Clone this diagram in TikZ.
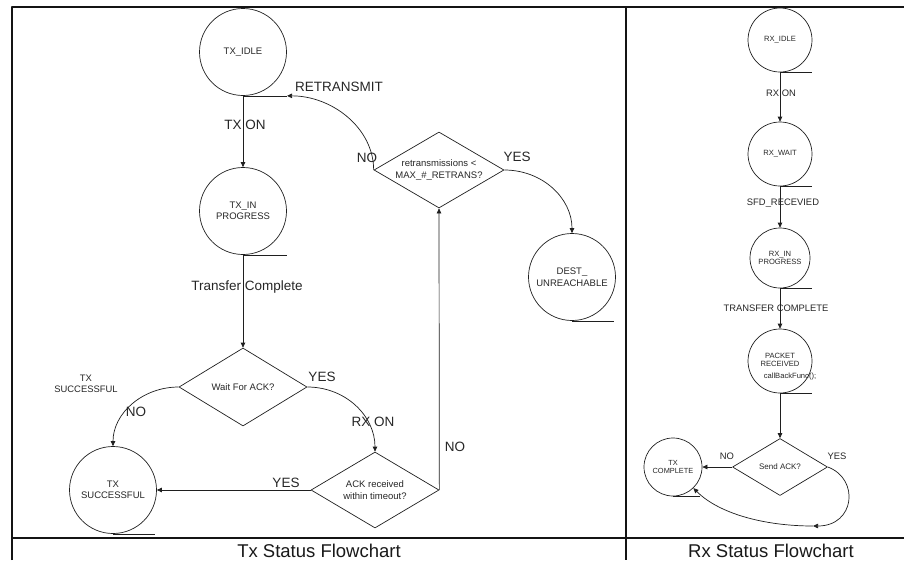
\documentclass[tikz,border=0pt]{standalone}
\usepackage{fontspec}
\setmainfont{Liberation Sans}
\usetikzlibrary{arrows.meta,shapes.geometric}

\begin{document}
\begin{tikzpicture}[x=1pt,y=-1pt,line join=round,
  ink/.style={draw=black!88},
  frame/.style={line width=2pt,draw=black!92},
  txstate/.style={circle,ink,line width=0.7pt,inner sep=0pt,minimum size=87pt,
    align=center,text=black!85,font=\fontsize{9.5}{11.5}\selectfont},
  rxstate/.style={circle,ink,line width=0.7pt,inner sep=0pt,minimum size=64pt,
    align=center,text=black!85,font=\fontsize{7.6}{8.6}\selectfont},
  decision/.style={diamond,ink,line width=0.7pt,inner sep=0pt,aspect=1.7,
    align=center,text=black!85,font=\fontsize{9.5}{11.5}\selectfont},
  smalldecision/.style={decision,font=\fontsize{8}{9.5}\selectfont},
  underline/.style={ink,line width=0.7pt},
  arr/.style={ink,line width=0.7pt,-{Triangle[length=5pt,width=4.5pt]}},
  lbl/.style={text=black!85,inner sep=0pt,font=\fontsize{13.5}{16}\selectfont},
  slbl/.style={text=black!85,inner sep=0pt,align=center,font=\fontsize{9.4}{11}\selectfont},
  captiontext/.style={text=black!90,inner sep=0pt,font=\fontsize{18.5}{22}\selectfont}]

\useasboundingbox (0,0) rectangle (904,560);

% outer frame, caption strip and panel divider
\draw[frame] (12,560) -- (12,7) -- (904,7);
\draw[frame] (12,538) -- (904,538);
\draw[frame] (626,7) -- (626,560);

% ---------------- Tx side ----------------
\node[txstate] (txidle) at (243,52) {TX\_IDLE};
\node[txstate] (txprog) at (243,211) {TX\_IN\\PROGRESS};
\node[txstate] (dest) at (572,277) {DEST\_\\UNREACHABLE};
\node[txstate] (txok) at (113,490) {TX\\SUCCESSFUL};

\node[decision,minimum width=130pt,minimum height=76pt] (retry) at (439,170)
  {retransmissions <\\MAX\_\#\_RETRANS?};
\node[decision,minimum width=128pt,minimum height=78pt] (waitack) at (243,387)
  {Wait For ACK?};
\node[decision,minimum width=128pt,minimum height=76pt] (ackrx) at (375,490)
  {ACK received\\within timeout?};

% state underlines
\coordinate (txidleu) at ([xshift=44pt]txidle.south);
\draw[underline] (txidle.south) -- (txidleu);
\draw[underline] (txprog.south) -- ++(44,0);
\draw[underline] (dest.south) -- ++(42,0);
\draw[underline] (txok.south) -- ++(42,0);

% transitions
\draw[arr] (txidle.south) -- (txprog.north);
\draw[arr] (txprog.south) -- (waitack.north);
\draw[arr] (retry.west) .. controls +(0,-42) and +(45,0) .. (txidleu);
\draw[arr] (retry.east) .. controls +(38,0) and +(0,-35) .. (dest.north);
\draw[arr] (waitack.west) .. controls +(-36,0) and +(0,-33) .. (txok.north);
\draw[arr] (waitack.east) .. controls +(38,0) and +(0,-36) .. (ackrx.north);
\draw[arr] (ackrx.west) -- (txok.east);
\draw[arr] (ackrx.east) -- (retry.south);

% transition labels
\node[lbl] (ltxon) at (245,125) {TX ON};
\node[lbl] (lretx) at (339,87) {RETRANSMIT};
\node[lbl] (lno1) at (367,158) {NO};
\node[lbl] (lyes1) at (517,157) {YES};
\node[lbl] (ltc1) at (247,287) {Transfer Complete};
\node[slbl] (lok) at (86,384) {TX\\SUCCESSFUL};
\node[lbl] (lno2) at (136,412) {NO};
\node[lbl] (lyes2) at (322,377) {YES};
\node[lbl] (lrxon1) at (373,422) {RX ON};
\node[lbl] (lyes3) at (286,483) {YES};
\node[lbl] (lno3) at (455,447) {NO};

% ---------------- Rx side ----------------
\node[rxstate] (rxidle) at (780,40) {RX\_IDLE};
\node[rxstate] (rxwait) at (780,154) {RX\_WAIT};
\node[rxstate,minimum size=60pt] (rxprog) at (780,258) {RX\_IN\\PROGRESS};
\node[rxstate] (pkt) at (780,361) {};
\node[rxstate,draw=none,minimum size=0pt] (pkttxt) at (780,360) {PACKET\\RECEIVED};
\node[rxstate,draw=none,minimum size=0pt] (pktfn) at (790,377) {callBackFunc();};
\node[smalldecision,minimum width=95pt,minimum height=57pt] (sendack) at (780,467) {Send ACK?};
\node[rxstate,minimum size=58pt,font=\fontsize{7.4}{8}\selectfont] (txcomp) at (673,467) {TX\\COMPLETE};

\draw[underline] (rxidle.south) -- ++(32,0);
\draw[underline] (rxwait.south) -- ++(32,0);
\draw[underline] (rxprog.south) -- ++(32,0);
\draw[underline] (pkt.south) -- ++(32,0);
\draw[underline] (txcomp.south) -- ++(27,0);

\draw[arr] (rxidle.south) -- (rxwait.north);
\draw[arr] (rxwait.south) -- (rxprog.north);
\draw[arr] (rxprog.south) -- (pkt.north);
\draw[arr] (pkt.south) -- (sendack.north);
\draw[arr] (sendack.west) -- (txcomp.east);
\coordinate (loopmid) at (813,526);
\draw[arr] (sendack.east) .. controls +(32,12) and +(42,0) .. (loopmid);
\draw[arr] (loopmid) .. controls +(-50,0) and +(25,25) .. (txcomp.-46);

\node[slbl] (lrxon2) at (781,93) {RX ON};
\node[slbl] (lsfd) at (783,203) {SFD\_RECEVIED};
\node[slbl] (ltc2) at (776,308) {TRANSFER COMPLETE};
\node[slbl] (lno4) at (727,456) {NO};
\node[slbl] (lyes4) at (837,456) {YES};

% captions
\node[captiontext] (captx) at (319,551) {Tx Status Flowchart};
\node[captiontext] (caprx) at (771,551) {Rx Status Flowchart};
\end{tikzpicture}
\end{document}
